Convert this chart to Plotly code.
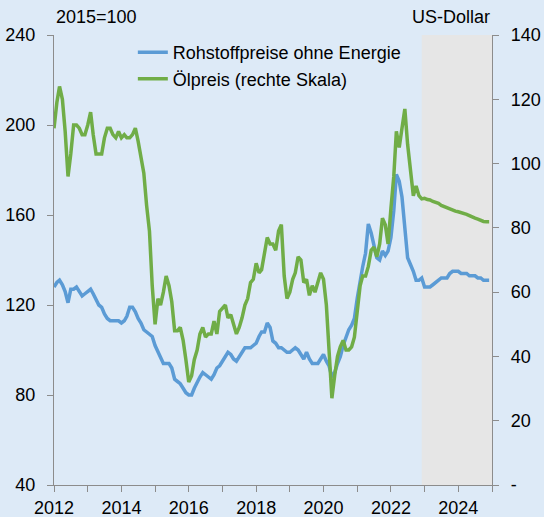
import pandas as pd
import plotly.graph_objects as go

# Monthly data, Jan 2012 - Dec 2024
months = pd.date_range("2012-01-01", periods=156, freq="MS")

# Rohstoffpreise ohne Energie (2015=100), left axis
non_energy = [
    # 2012
    128, 130, 131, 129, 126, 121, 127, 127, 128, 126, 124, 125,
    # 2013
    126, 127, 125, 122, 120, 119, 116, 114, 113, 113, 113, 113,
    # 2014
    112, 113, 115, 119, 119, 117, 114, 112, 109, 108, 107, 106,
    # 2015
    102, 99, 96, 94, 94, 94, 92, 87, 86, 85, 83, 81,
    # 2016
    80, 80, 83, 86, 88, 90, 89, 88, 87, 89, 92, 93,
    # 2017
    95, 97, 99, 98, 96, 95, 97, 99, 101, 101, 101, 102,
    # 2018
    103, 106, 108, 108, 112, 110, 104, 103, 101, 101, 100, 99,
    # 2019
    99, 100, 101, 100, 98, 96, 99, 96, 94, 94, 94, 96,
    # 2020
    98, 95, 93, 88, 90, 94, 97, 102, 106, 109, 111, 114,
    # 2021
    123, 131, 137, 143, 156, 152, 147, 141, 140, 144, 142, 144,
    # 2022
    150, 162, 178, 175, 168, 156, 141, 138, 135, 131, 131, 132,
    # 2023 (forecast)
    128, 128, 128, 129, 130, 131, 132, 132, 132, 134, 135, 135,
    # 2024 (forecast)
    135, 134, 134, 134, 133, 133, 133, 132, 132, 131, 131, 131,
]

# Ölpreis in US-Dollar, right axis
oil = [
    # 2012
    111, 119, 124, 120, 110, 96, 103, 112, 112, 111, 109, 109,
    # 2013
    112, 116, 109, 103, 103, 103, 108, 111, 111, 109, 108, 110,
    # 2014
    108, 109, 108, 108, 109, 111, 107, 102, 97, 87, 79, 62,
    # 2015
    50, 58, 56, 60, 65, 62, 57, 48, 48, 49, 45, 39,
    # 2016
    32, 34, 39, 42, 47, 49, 46, 47, 47, 51, 47, 54,
    # 2017
    55, 56, 52, 53, 50, 47, 49, 52, 56, 58, 63, 64,
    # 2018
    69, 66, 67, 72, 77, 75, 75, 73, 79, 81, 65, 58,
    # 2019
    60, 64, 66, 71, 70, 63, 64, 59, 62, 60, 63, 66,
    # 2020
    64, 56, 42, 27, 34, 40, 43, 45, 42, 42, 43, 46,
    # 2021
    54, 62, 65, 65, 68, 73, 74, 71, 75, 83, 81, 75,
    # 2022
    86, 96, 110, 105, 111, 117, 106, 98, 90, 93, 90, 89,
    # 2023 (forecast)
    89.2, 88.8, 88.7, 88.2, 87.9, 87.6, 87.0, 86.6, 86.4, 85.9, 85.6, 85.2,
    # 2024 (forecast)
    85.0, 84.8, 84.5, 84.2, 83.8, 83.3, 83.0, 82.7, 82.3, 82.0, 81.9, 81.9,
]

forecast_start = "2022-12-01"
x_end = "2025-01-01"

left_ticks = [40, 80, 120, 160, 200, 240]
right_ticks = [0, 20, 40, 60, 80, 100, 120, 140]
right_ticktext = ["-", "20", "40", "60", "80", "100", "120", "140"]

BG = "#DDEAF7"
AXIS = "#8C8C8C"
FONT = "Liberation Sans, Arial, sans-serif"

fig = go.Figure()
fig.add_trace(go.Scatter(
    x=months, y=non_energy, name="Rohstoffpreise ohne Energie",
    mode="lines", line=dict(color="#5B9BD5", width=3.5), yaxis="y",
))
fig.add_trace(go.Scatter(
    x=months, y=oil, name="Ölpreis (rechte Skala)",
    mode="lines", line=dict(color="#70AD47", width=3.5), yaxis="y2",
))

fig.add_shape(type="rect", xref="x", yref="paper",
              x0=forecast_start, x1=x_end, y0=0, y1=1,
              fillcolor="#E6E6E6", line=dict(width=0), layer="below")

axis_common = dict(showline=True, linecolor=AXIS, linewidth=1.3,
                   ticks="outside", ticklen=6, tickcolor=AXIS, tickwidth=1.3,
                   showgrid=False, zeroline=False, automargin=False)

fig.update_layout(
    width=544, height=517,
    margin=dict(l=54, r=52, t=35, b=32, autoexpand=False),
    paper_bgcolor=BG, plot_bgcolor=BG,
    font=dict(family=FONT, size=18, color="#000000"),
    showlegend=True,
    legend=dict(x=0.18, y=1.002, xanchor="left", yanchor="top",
                bgcolor="rgba(0,0,0,0)", font=dict(size=18),
                tracegroupgap=0),
    xaxis=dict(type="date", range=["2012-01-01", x_end],
               dtick="M24", tick0="2012-01-01", tickformat="%Y",
               minor=dict(dtick="M12", tick0="2012-01-01", ticks="outside",
                          ticklen=6, tickcolor=AXIS, tickwidth=1.3),
               ticklabelstandoff=0,
               **axis_common),
    yaxis=dict(range=[40, 240], tickvals=left_ticks,
               ticklabelstandoff=8, **axis_common),
    yaxis2=dict(range=[0, 140], tickvals=right_ticks, ticktext=right_ticktext,
                overlaying="y", side="right", ticklabelstandoff=8,
                **axis_common),
    annotations=[
        dict(text="2015=100", xref="paper", yref="paper", x=0, y=1,
             xanchor="left", yanchor="bottom", yshift=6, showarrow=False,
             font=dict(size=18)),
        dict(text="US-Dollar", xref="paper", yref="paper", x=1, y=1,
             xanchor="right", yanchor="bottom", yshift=6, showarrow=False,
             font=dict(size=18)),
    ],
)

fig.write_html(
    "out.html",
    config={"displayModeBar": False},
    post_script="document.body.style.margin='0';"
                "document.body.style.background='" + BG + "';",
)
